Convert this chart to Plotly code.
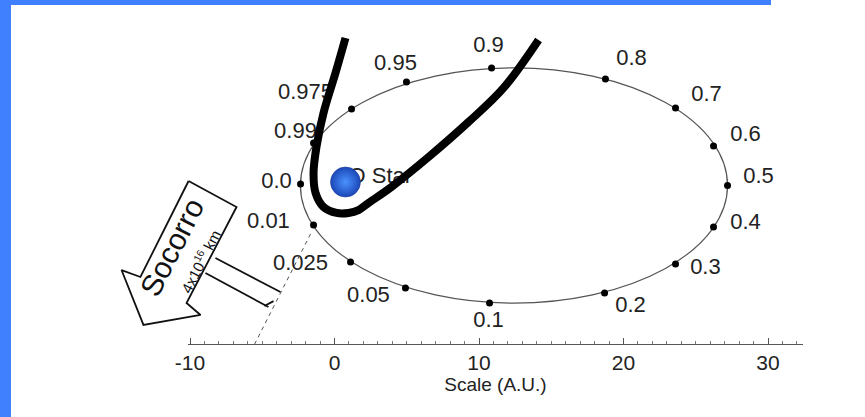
import plotly.graph_objects as go

# ---------------- data (AU) ----------------
phases = ["0.0", "0.01", "0.025", "0.05", "0.1", "0.2", "0.3", "0.4", "0.5",
          "0.6", "0.7", "0.8", "0.9", "0.95", "0.975", "0.99"]
orbit_x = [-2.35, -1.45, 1.11, 4.91, 10.73, 18.69, 23.60, 26.23, 27.20,
           26.23, 23.60, 18.75, 10.87, 4.98, 1.18, -1.45]
orbit_y = [0.10, -2.73, -5.29, -7.09, -8.13, -7.44, -5.43, -2.87, 0.0,
           2.73, 5.36, 7.37, 8.13, 7.16, 5.29, 2.94]
label_x = [-4.01, -4.57, -2.35, 2.35, 10.66, 20.48, 25.67, 28.44, 29.34,
           28.44, 25.74, 20.55, 10.66, 4.22, -2.01, -2.70]
label_y = [0.24, -2.53, -5.50, -7.65, -9.38, -8.34, -5.71, -2.60, 0.52,
           3.43, 6.26, 8.69, 9.65, 8.34, 6.40, 3.70]

orbit_center = [12.42, 0.0]
orbit_semi_axes = [14.78, 8.14]

star_x = [0.76]
star_y = [0.24]
star_label = ["O Star"]
star_label_x = [0.97]
star_label_y = [0.52]

track_x = [0.76, 0.07, -0.76, -1.25, -1.45, -1.31, -0.76, 0.14, 0.97, 1.66, 2.35,
           3.94, 6.51, 9.27, 11.70, 14.12]
track_y = [10.21, 7.79, 5.02, 2.66, 0.87, -0.52, -1.49, -1.90, -1.90, -1.70, -1.21,
           -0.10, 1.97, 4.39, 6.75, 10.07]

arrow_x = [-10.10, -6.78, -10.24, -9.27, -13.22, -14.74, -13.43, -10.10]
arrow_y = [0.31, -1.49, -8.13, -8.96, -9.65, -5.85, -6.33, 0.31]
shaft_upper_x = [-8.24, -3.74]
shaft_upper_y = [-5.02, -7.37]
shaft_lower_x = [-8.93, -4.57]
shaft_lower_y = [-6.06, -8.41]
shaft_tip_x = [-4.85, -4.22]
shaft_tip_y = [-8.34, -8.00]
sight_x = [-5.54, -1.59]
sight_y = [-11.0, -3.22]

arrow_title = "Socorro"
arrow_title_pos = [-11.28, -4.26]
arrow_sub = "4x10<sup>16</sup> km"
arrow_sub_pos = [-9.34, -5.26]

x_ticks = [-10, 0, 10, 20, 30]

# ---------------- layout geometry ----------------
W, H = 865, 417
MB = 73
PLOT_H = H - MB
PX = 14.45
X_LEFT_PX, X_RIGHT_PX = 188, 803
x_lo = -10 - (190 - X_LEFT_PX) / PX
x_hi = x_lo + (X_RIGHT_PX - X_LEFT_PX) / PX
y_hi = 185.5 / PX
y_lo = y_hi - PLOT_H / PX
x2_lo = x_lo - X_LEFT_PX / PX
x2_hi = x2_lo + W / PX

FONT = "Liberation Sans, Arial, Helvetica, sans-serif"
BLUE = "#4080ff"

fig = go.Figure()

fig.add_trace(go.Scatter(x=orbit_x, y=orbit_y, mode="markers",
                         marker=dict(color="black", size=7),
                         xaxis="x", yaxis="y", hoverinfo="skip"))
fig.add_trace(go.Scatter(x=label_x, y=label_y, mode="text", text=phases,
                         textposition="middle center",
                         textfont=dict(family=FONT, size=22, color="#222"),
                         xaxis="x", yaxis="y", hoverinfo="skip"))
fig.add_trace(go.Scatter(x=star_label_x, y=star_label_y, mode="text", text=star_label,
                         textposition="middle right",
                         textfont=dict(family=FONT, size=22, color="#222"),
                         xaxis="x", yaxis="y", hoverinfo="skip"))

fig.add_trace(go.Scatter(x=sight_x, y=sight_y, mode="lines",
                         line=dict(color="#555", width=1, dash="4px,4px"),
                         xaxis="x2", yaxis="y2", hoverinfo="skip"))
fig.add_trace(go.Scatter(x=arrow_x, y=arrow_y, mode="lines", fill="toself",
                         fillcolor="white", line=dict(color="#111", width=1.8),
                         xaxis="x2", yaxis="y2", hoverinfo="skip"))
for sx, sy in [(shaft_upper_x, shaft_upper_y), (shaft_lower_x, shaft_lower_y),
               (shaft_tip_x, shaft_tip_y)]:
    fig.add_trace(go.Scatter(x=sx, y=sy, mode="lines",
                             line=dict(color="#111", width=1.8),
                             xaxis="x2", yaxis="y2", hoverinfo="skip"))
fig.add_trace(go.Scatter(x=track_x, y=track_y, mode="lines",
                         line=dict(color="black", width=8, shape="spline", smoothing=1.0),
                         xaxis="x2", yaxis="y2", hoverinfo="skip"))
fig.add_trace(go.Scatter(x=star_x, y=star_y, mode="markers",
                         marker=dict(size=30, color="#1c47b8",
                                     gradient=dict(type="radial", color="#4a92ff"),
                                     line=dict(color="#1a3a8a", width=0.5)),
                         xaxis="x2", yaxis="y2", hoverinfo="skip"))

fig.add_annotation(x=arrow_title_pos[0], y=arrow_title_pos[1], xref="x2", yref="y2",
                   text=arrow_title, showarrow=False, textangle=-63,
                   font=dict(family=FONT, size=30, color="#111"))
fig.add_annotation(x=arrow_sub_pos[0], y=arrow_sub_pos[1], xref="x2", yref="y2",
                   text=arrow_sub, showarrow=False, textangle=-63,
                   font=dict(family=FONT, size=15, color="#111"))

fig.add_shape(type="circle", xref="x", yref="y", layer="below",
              x0=orbit_center[0] - orbit_semi_axes[0], x1=orbit_center[0] + orbit_semi_axes[0],
              y0=orbit_center[1] - orbit_semi_axes[1], y1=orbit_center[1] + orbit_semi_axes[1],
              line=dict(color="#555", width=1.2))

fig.add_shape(type="rect", xref="paper", yref="paper", layer="above",
              x0=0, x1=771 / W, y0=(PLOT_H - 5) / PLOT_H, y1=1,
              fillcolor=BLUE, line=dict(width=0))
fig.add_shape(type="rect", xref="paper", yref="paper", layer="above",
              x0=0, x1=11 / W, y0=(PLOT_H - H) / PLOT_H, y1=1,
              fillcolor=BLUE, line=dict(width=0))

fig.update_layout(
    width=W, height=H, autosize=False,
    margin=dict(l=0, r=0, t=0, b=MB, pad=0, autoexpand=False),
    paper_bgcolor="white", plot_bgcolor="rgba(0,0,0,0)",
    showlegend=False,
    xaxis=dict(domain=[X_LEFT_PX / W, X_RIGHT_PX / W], range=[x_lo, x_hi], anchor="y",
               automargin=False,
               tickmode="array", tickvals=x_ticks, ticktext=[str(v) for v in x_ticks],
               ticks="inside", ticklen=6, tickwidth=1, tickcolor="#555",
               minor=dict(dtick=1, tick0=0, ticks="inside", ticklen=3, tickcolor="#777"),
               showline=True, linecolor="#555", linewidth=1,
               showgrid=False, zeroline=False,
               tickfont=dict(family=FONT, size=21, color="#222"),
               title=dict(text="Scale (A.U.)", font=dict(family=FONT, size=19, color="#222"),
                          standoff=2)),
    yaxis=dict(domain=[0, 1], range=[y_lo, y_hi], anchor="x", visible=False, automargin=False),
    xaxis2=dict(domain=[0, 1], range=[x2_lo, x2_hi], anchor="y2", visible=False, automargin=False),
    yaxis2=dict(domain=[0, 1], range=[y_lo, y_hi], anchor="x2", visible=False, automargin=False),
)

fig.write_html("out.html", config={"displayModeBar": False},
               post_script="document.body.style.margin='0';document.body.style.padding='0';")
